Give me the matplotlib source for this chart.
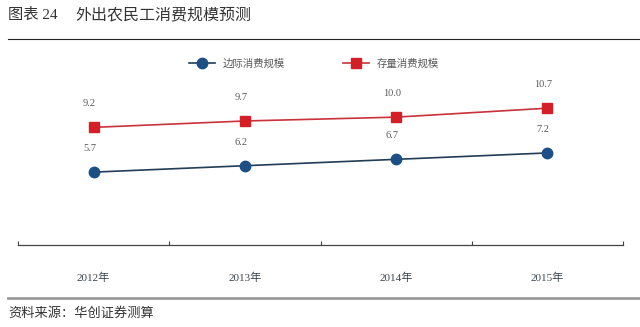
import matplotlib
matplotlib.use('Agg')
import matplotlib.pyplot as plt
from matplotlib.lines import Line2D

plt.rcParams['font.family'] = ['Noto Sans CJK SC', 'DejaVu Sans']

years = ['2012年', '2013年', '2014年', '2015年']
marginal = [5.7, 6.2, 6.7, 7.2]   # 边际消费规模
stock = [9.2, 9.7, 10.0, 10.7]    # 存量消费规模

RED = '#d41f27'
RED_LINE = '#c8323a'
BLUE = '#1c4f86'
BLUE_LINE = '#233c57'
TEXT_GRAY = '#5a5a5a'
NUM_FONT = ['Liberation Serif', 'Noto Sans CJK SC']

fig = plt.figure(figsize=(6.4, 3.27), dpi=100)

# header and footer rules
fig.add_artist(Line2D([8 / 640, 1], [1 - 39 / 327] * 2, color='#222222', lw=0.8))
fig.add_artist(Line2D([8 / 640, 1], [1 - 298 / 327] * 2, color='#9a9a9a', lw=2.0))

fig.text(8 / 640, 1 - 15 / 327, '图表 24', fontsize=11, color='#333333',
         va='center', ha='left', family=NUM_FONT)
fig.text(75 / 640, 1 - 15 / 327, '外出农民工消费规模预测', fontsize=11.5,
         color='#333333', va='center', ha='left')
fig.text(8 / 640, 1 - 313 / 327, '资料来源：华创证券测算', fontsize=9.5,
         color='#333333', va='center', ha='left', style='italic')

ax = fig.add_axes((18 / 640, 1 - 245 / 327, 605 / 640, 179 / 327))
x = list(range(len(years)))

ax.plot(x, marginal, color=BLUE_LINE, lw=1.2, marker='o', ms=7.5,
        mfc=BLUE, mec=BLUE, label='边际消费规模')
ax.plot(x, stock, color=RED_LINE, lw=1.2, marker='s', ms=7,
        mfc=RED, mec=RED, label='存量消费规模')

for series in (marginal, stock):
    for xi, v in zip(x, series):
        ax.annotate(f'{v:.1f}', (xi, v), xytext=(-3, 17), textcoords='offset points',
                    ha='center', va='center', fontsize=7.5, color=TEXT_GRAY,
                    family=NUM_FONT)

ax.set_xlim(-0.5, len(years) - 0.5)
ax.set_ylim(0, 14)
for side in ('left', 'right', 'top'):
    ax.spines[side].set_visible(False)
ax.spines['bottom'].set_color('#444444')
ax.spines['bottom'].set_linewidth(0.9)
ax.set_yticks([])

ax.set_xticks(x)
ax.set_xticklabels(years, family=NUM_FONT, fontsize=8, color='#3c4650')
ax.tick_params(axis='x', which='major', length=0, pad=20)
ax.set_xticks([i - 0.5 for i in range(len(years) + 1)], minor=True)
ax.tick_params(axis='x', which='minor', direction='in', length=3,
               width=0.8, color='#444444')

fig.legend(loc='center', bbox_to_anchor=(314 / 640, 1 - 64 / 327), ncol=2,
           frameon=False, fontsize=7.5, handlelength=2.5, handletextpad=0.8,
           columnspacing=5.5, labelcolor=TEXT_GRAY)

fig.savefig('out.png', dpi=100, facecolor='white')
